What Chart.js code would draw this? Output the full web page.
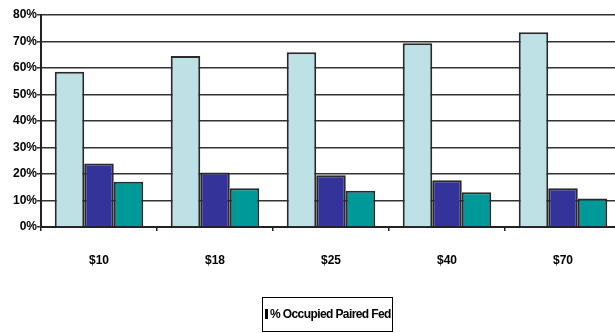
<!DOCTYPE html>
<html>
<head>
<meta charset="utf-8">
<script src="https://cdn.jsdelivr.net/npm/chart.js@4/dist/chart.umd.min.js"></script>
<style>
html, body { margin: 0; padding: 0; width: 615px; height: 333px; overflow: hidden; background: #fff; }
#wrap { position: absolute; left: 0; top: 0; width: 625px; height: 333px; }
#legend {
    position: absolute; left: 262px; top: 297px; width: 129px; height: 33px;
    border: 1px solid #000; overflow: hidden; white-space: nowrap;
    font: bold 12px "Liberation Sans Narrow", "Liberation Sans", Arial, sans-serif;
    letter-spacing: -0.6px; line-height: 33px; color: #000;
}
#legend .sw { display: inline-block; width: 3px; height: 10px; background: #000; vertical-align: -1px; margin: 0 2px 0 2px; }
</style>
</head>
<body>
<div id="wrap"><canvas id="chart" width="625" height="333"></canvas></div>
<div id="legend"><span class="sw"></span>% Occupied Paired Fed</div>
<script>
// Categories and series
const categories = ['$10', '$18', '$25', '$40', '$70'];
const occupiedPaired = [58.6, 64.5, 65.9, 69.3, 73.5];
const seriesTwo = [24.0, 20.6, 19.5, 17.6, 14.6];
const seriesThree = [17.1, 14.6, 13.7, 13.1, 10.8];
const yTickLabels = ['0%', '10%', '20%', '30%', '40%', '50%', '60%', '70%', '80%'];

const labelFont = { family: '"Liberation Sans Narrow", "Liberation Sans", Arial, sans-serif', size: 12, weight: 'bold' };

function bar(label, data, color) {
    return {
        label: label,
        data: data,
        backgroundColor: color,
        borderColor: '#2a2a2a',
        borderWidth: 2,
        categoryPercentage: 0.763,
        barPercentage: 1.0
    };
}

new Chart(document.getElementById('chart').getContext('2d'), {
    type: 'bar',
    data: {
        labels: categories,
        datasets: [
            bar('% Occupied Paired Fed', occupiedPaired, '#bde1e5'),
            bar('Series 2', seriesTwo, '#333399'),
            bar('Series 3', seriesThree, '#009999')
        ]
    },
    options: {
        responsive: false,
        animation: false,
        layout: { padding: { top: 15, right: 4, left: 0, bottom: 0 } },
        plugins: { legend: { display: false }, tooltip: { enabled: false } },
        scales: {
            x: {
                grid: { offset: true, drawOnChartArea: false, drawTicks: true, tickLength: 4, color: '#222', lineWidth: 1.5 },
                border: { display: true, color: '#222', width: 2 },
                ticks: { color: '#000', font: labelFont, padding: 22, maxRotation: 0 },
                afterFit: s => { s.height = 333 - 227; }
            },
            y: {
                min: 0, max: 80,
                grid: { color: '#333', lineWidth: 1.5, tickLength: 4 },
                border: { display: true, color: '#222', width: 2 },
                ticks: {
                    stepSize: 10, color: '#000', font: labelFont, padding: 0,
                    callback: (v, i) => yTickLabels[i]
                },
                afterFit: s => { s.width = 41; }
            }
        }
    }
});
</script>
</body>
</html>
